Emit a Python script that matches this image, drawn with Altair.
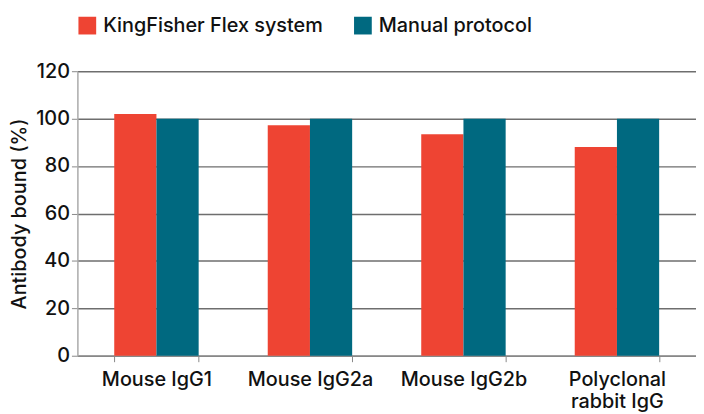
import altair as alt
import pandas as pd

categories = ["Mouse IgG1", "Mouse IgG2a", "Mouse IgG2b", "Polyclonal rabbit IgG"]
series = ["KingFisher Flex system", "Manual protocol"]
kingfisher = [102, 97.2, 93.4, 88]
manual = [100, 100, 100, 100]
colors = ["#EE4433", "#006980"]
y_ticks = [0, 20, 40, 60, 80, 100, 120]

rows = []
for c, k, m in zip(categories, kingfisher, manual):
    rows.append({"cat": c, "series": series[0], "value": k})
    rows.append({"cat": c, "series": series[1], "value": m})
df = pd.DataFrame(rows)

FONT = "Inter"
FS = 20
FW = 500

chart = alt.Chart(df).mark_bar().encode(
    x=alt.X("cat:N", sort=categories, title=None,
            scale=alt.Scale(paddingInner=0.45, paddingOuter=0.24),
            axis=alt.Axis(labelAngle=0, labelFontSize=FS, labelColor="#111",
                          labelFont=FONT, labelFontWeight=FW, labelPadding=8, tickBand="extent",
                          tickSize=6, tickColor="#888", domainColor="#888",
                          domainWidth=1.5, labelLineHeight=22, labelLimit=200,
                          labelExpr="datum.label == 'Polyclonal rabbit IgG' ? ['Polyclonal', 'rabbit IgG'] : datum.label")),
    xOffset=alt.XOffset("series:N", sort=series),
    y=alt.Y("value:Q", title="Antibody bound (%)",
            scale=alt.Scale(domain=[0, 120], nice=False),
            axis=alt.Axis(values=y_ticks, labelFontSize=FS, labelColor="#111",
                          labelFont=FONT, labelFontWeight=FW, titleFont=FONT, titleFontSize=FS,
                          titleFontWeight=FW, titleColor="#111",
                          titlePadding=6, tickSize=6, tickColor="#888",
                          domainColor="#aaa", domainWidth=1.5,
                          grid=True, gridColor="#6e6e6e", gridWidth=1.5, labelPadding=2)),
    color=alt.Color("series:N", sort=series,
                    scale=alt.Scale(domain=series, range=colors),
                    legend=alt.Legend(title=None, orient="none", legendX=0, legendY=-56,
                                      direction="horizontal", symbolType="square",
                                      symbolSize=320, symbolStrokeWidth=0, symbolOpacity=1,
                                      labelFontSize=FS, labelFont=FONT, labelFontWeight=FW,
                                      labelColor="#111",
                                      labelLimit=300, columnPadding=30, labelOffset=6)),
).properties(
    width=624, height=287,
    autosize=alt.AutoSizeParams(type="none"),
    padding={"left": 70, "top": 62, "right": 0, "bottom": 56},
).configure_view(stroke=None)

chart.save("out.html", embed_options={"renderer": "svg", "actions": False})
